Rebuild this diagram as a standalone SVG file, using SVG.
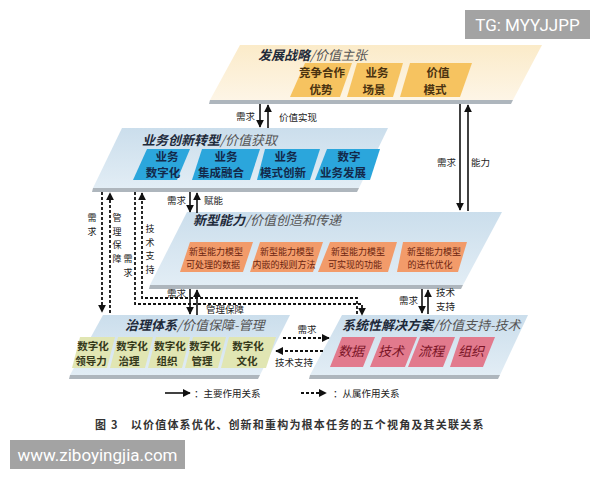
<svg xmlns="http://www.w3.org/2000/svg" width="600" height="480" viewBox="0 0 600 480">
<defs>
<linearGradient id="gCream" x1="0" y1="0" x2="0" y2="1"><stop offset="0" stop-color="#fbebc9"/><stop offset="1" stop-color="#fdf5e6"/></linearGradient>
<linearGradient id="gBlue" x1="0" y1="0" x2="0" y2="1"><stop offset="0" stop-color="#cbdeec"/><stop offset="1" stop-color="#e2edf5"/></linearGradient>
<marker id="ah" viewBox="0 0 10 10" refX="9" refY="5" markerWidth="8" markerHeight="8" markerUnits="userSpaceOnUse" orient="auto"><path d="M0,0 L10,5 L0,10 z" fill="#111"/></marker>
</defs>
<style>
text{font-family:"Noto Sans CJK SC","Noto Sans",sans-serif;fill:#222}
.shadow{fill:#aeb6bd}
.title{font-size:13px;font-style:italic}
.tb{font-weight:700;fill:#1e2a3a}
.tn{font-weight:400;fill:#555}
.y{fill:#f6c360}
.b{fill:#2ba6dc}
.o{fill:#f29b6a}
.g{fill:#e1e6b3}
.p{fill:#e27a8d}
.bt{font-size:11.5px;font-weight:700;text-anchor:middle}
.yt{fill:#4a3210}
.blt{fill:#13294a}
.ot{font-size:9px;font-weight:400;text-anchor:middle;fill:#6a2410}
.gt{font-size:10.5px;font-weight:700;text-anchor:middle;fill:#34381a}
.pt{font-size:13px;font-weight:400;text-anchor:middle;fill:#7a1426;font-style:italic}
.lab{font-size:9.5px;fill:#222}
.vl{font-size:9px;fill:#222;text-anchor:middle}
.solid{fill:none;stroke:#111;stroke-width:1.6}
.dash{fill:none;stroke:#111;stroke-width:1.8;stroke-dasharray:3 2}
</style>
<rect width="600" height="480" fill="#ffffff"/>

<g id="layer-strategy">
<polygon class="shadow" points="210,100 513,100 511,104 209,104"/>
<polygon points="240,45 542,45 513,100 210,100" fill="url(#gCream)"/>
<text class="title" x="258" y="60"><tspan class="tb">发展战略</tspan><tspan class="tn">/价值主张</tspan></text>
<polygon class="y" points="305,63 352,63 340,97 290,97"/>
<polygon class="y" points="357,63 403,63 393,97 347,97"/>
<polygon class="y" points="410,63 472,63 460,97 400,97"/>
<text class="bt yt" x="322" y="77">竞争合作</text><text class="bt yt" x="321" y="94">优势</text>
<text class="bt yt" x="377" y="77">业务</text><text class="bt yt" x="374" y="94">场景</text>
<text class="bt yt" x="438" y="77">价值</text><text class="bt yt" x="435" y="94">模式</text>
</g>

<g id="layer-business">
<polygon class="shadow" points="93,188 359,188 357,192 92,192"/>
<polygon points="122,128 388,128 359,188 93,188" fill="url(#gBlue)"/>
<text class="title" x="142" y="145"><tspan class="tb">业务创新转型</tspan><tspan class="tn">/价值获取</tspan></text>
<polygon class="b" points="147,149 190,149 177,180 133,180"/>
<polygon class="b" points="202,149 260,149 250,180 192,180"/>
<polygon class="b" points="265,149 320,149 310,180 257,180"/>
<polygon class="b" points="327,149 380,149 370,180 315,180"/>
<text class="bt blt" x="167" y="161">业务</text><text class="bt blt" x="163" y="177">数字化</text>
<text class="bt blt" x="226" y="161">业务</text><text class="bt blt" x="221" y="177">集成融合</text>
<text class="bt blt" x="286" y="161">业务</text><text class="bt blt" x="283" y="177">模式创新</text>
<text class="bt blt" x="349" y="161">数字</text><text class="bt blt" x="343" y="177">业务发展</text>
</g>

<g id="layer-capability">
<polygon class="shadow" points="150,285 463,285 461,289 149,289"/>
<polygon points="187,212 502,212 463,285 150,285" fill="url(#gBlue)"/>
<text class="title" x="193" y="225"><tspan class="tb">新型能力</tspan><tspan class="tn">/价值创造和传递</tspan></text>
<polygon class="o" points="190,242 253,242 243,272 180,272"/>
<polygon class="o" points="260,242 323,242 313,272 250,272"/>
<polygon class="o" points="330,242 397,242 388,272 318,272"/>
<polygon class="o" points="403,242 467,242 458,272 397,272"/>
<text class="ot" x="216" y="255">新型能力模型</text><text class="ot" x="213" y="268">可处理的数据</text>
<text class="ot" x="287" y="255">新型能力模型</text><text class="ot" x="284" y="268">内嵌的规则方法</text>
<text class="ot" x="358" y="255">新型能力模型</text><text class="ot" x="355" y="268">可实现的功能</text>
<text class="ot" x="434" y="255">新型能力模型</text><text class="ot" x="430" y="268">的迭代优化</text>
</g>

<g id="layer-governance">
<polygon class="shadow" points="70,375 260,375 258,379 69,379"/>
<polygon points="103,315 290,315 260,375 70,375" fill="url(#gBlue)"/>
<text class="title" x="125" y="330"><tspan class="tb">治理体系</tspan><tspan class="tn">/价值保障-管理</tspan></text>
<polygon class="g" points="80,337 115,337 107,368 72,368"/>
<polygon class="g" points="118,337 153,337 145,368 110,368"/>
<polygon class="g" points="156,337 190,337 182,368 148,368"/>
<polygon class="g" points="193,337 226,337 218,368 185,368"/>
<polygon class="g" points="229,337 276,337 266,368 221,368"/>
<text class="gt" x="93" y="350">数字化</text><text class="gt" x="91" y="365">领导力</text>
<text class="gt" x="132" y="350">数字化</text><text class="gt" x="129" y="365">治理</text>
<text class="gt" x="170" y="350">数字化</text><text class="gt" x="167" y="365">组织</text>
<text class="gt" x="205" y="350">数字化</text><text class="gt" x="202" y="365">管理</text>
<text class="gt" x="248" y="350">数字化</text><text class="gt" x="247" y="365">文化</text>
</g>

<g id="layer-solution">
<polygon class="shadow" points="310,375 500,375 498,379 309,379"/>
<polygon points="342,315 528,315 500,375 310,375" fill="url(#gBlue)"/>
<text class="title" x="342" y="330"><tspan class="tb">系统性解决方案</tspan><tspan class="tn">/价值支持-技术</tspan></text>
<polygon class="p" points="342,337 375,337 363,367 330,367"/>
<polygon class="p" points="382,337 417,337 405,367 370,367"/>
<polygon class="p" points="420,337 455,337 443,367 408,367"/>
<polygon class="p" points="460,337 495,337 483,367 450,367"/>
<text class="pt" x="351" y="356">数据</text>
<text class="pt" x="391" y="356">技术</text>
<text class="pt" x="431" y="356">流程</text>
<text class="pt" x="471" y="356">组织</text>
</g>

<g id="connectors">
<path class="solid" d="M260,104 V127" marker-end="url(#ah)"/>
<path class="solid" d="M268,128 V105" marker-end="url(#ah)"/>
<path class="solid" d="M460,104 V210" marker-end="url(#ah)"/>
<path class="solid" d="M468,211 V105" marker-end="url(#ah)"/>
<path class="solid" d="M190,192 V212" marker-end="url(#ah)"/>
<path class="solid" d="M197,213 V193" marker-end="url(#ah)"/>
<path class="solid" d="M422,289 V313" marker-end="url(#ah)"/>
<path class="solid" d="M428,314 V290" marker-end="url(#ah)"/>
<path class="solid" d="M190,289 V314" marker-end="url(#ah)"/>
<path class="solid" d="M197,315 V290" marker-end="url(#ah)"/>
<path class="dash" d="M102,192 V312" marker-end="url(#ah)"/>
<path class="dash" d="M110,313 V193" marker-end="url(#ah)"/>
<path class="dash" d="M135,192 V304 H362 V315" marker-end="url(#ah)"/>
<path class="dash" d="M357,314 V298 H142 V193" marker-end="url(#ah)"/>
<path class="dash" d="M283,338 H329" marker-end="url(#ah)"/>
<path class="dash" d="M323,351 H276" marker-end="url(#ah)"/>
<text class="lab" x="255" y="120" text-anchor="end">需求</text>
<text class="lab" x="279" y="121">价值实现</text>
<text class="lab" x="456" y="166" text-anchor="end">需求</text>
<text class="lab" x="471" y="166">能力</text>
<text class="lab" x="186" y="204" text-anchor="end">需求</text>
<text class="lab" x="204" y="204">赋能</text>
<text class="lab" x="418" y="304" text-anchor="end">需求</text>
<text class="lab" x="436" y="296">技术</text>
<text class="lab" x="436" y="310">支持</text>
<text class="lab" x="186" y="297" text-anchor="end">需求</text>
<text class="lab" x="206" y="313">管理保障</text>
<text class="lab" x="307" y="333" text-anchor="middle">需求</text>
<text class="lab" x="294" y="366" text-anchor="middle">技术支持</text>
<text class="vl"><tspan x="92" y="221">需</tspan><tspan x="92" y="234.5">求</tspan></text>
<text class="vl"><tspan x="117" y="221">管</tspan><tspan x="117" y="234.5">理</tspan><tspan x="117" y="248">保</tspan><tspan x="117" y="261.5">障</tspan></text>
<text class="vl"><tspan x="128" y="262">需</tspan><tspan x="128" y="275.5">求</tspan></text>
<text class="vl"><tspan x="150" y="232">技</tspan><tspan x="150" y="245.5">术</tspan><tspan x="150" y="259">支</tspan><tspan x="150" y="272.5">持</tspan></text>
</g>

<g id="legend">
<path class="solid" d="M165,393 H190" marker-end="url(#ah)"/>
<text class="lab" x="194" y="397">：主要作用关系</text>
<path class="dash" d="M301,393 H326" marker-end="url(#ah)"/>
<text class="lab" x="333" y="397">：从属作用关系</text>
</g>

<g id="caption">
<text x="95" y="429" style="font-size:11px;font-weight:700;letter-spacing:1.2px;fill:#333">图 3　以价值体系优化、创新和重构为根本任务的五个视角及其关联关系</text>
</g>

<g id="watermarks">
<rect x="465" y="10" width="125" height="29" fill="#a3a3a3"/>
<text x="527.5" y="31" text-anchor="middle" style="font-family:Roboto,'Liberation Sans',sans-serif;font-size:17px;fill:#ffffff">TG: MYYJJPP</text>
<rect x="10" y="440" width="175" height="29" fill="#a3a3a3"/>
<text x="97.5" y="461" text-anchor="middle" style="font-family:Roboto,'Liberation Sans',sans-serif;font-size:17px;fill:#ffffff">www.ziboyingjia.com</text>
</g>
</svg>
